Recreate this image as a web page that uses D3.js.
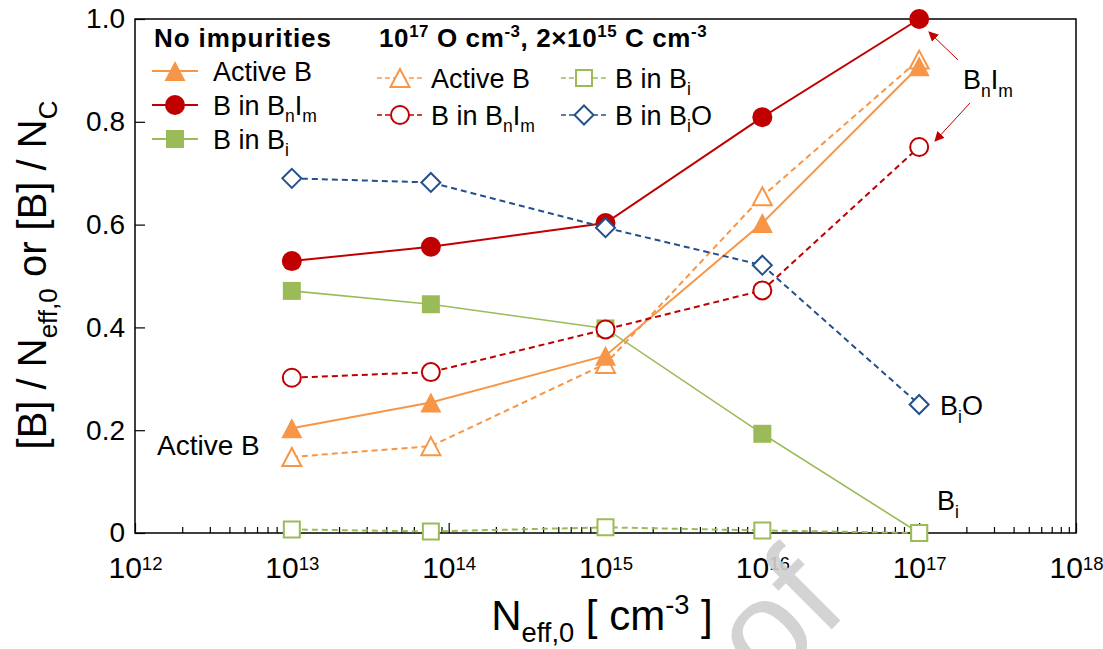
<!DOCTYPE html>
<html><head><meta charset="utf-8">
<script src="https://cdn.jsdelivr.net/npm/d3@7"></script>
<style>
body{margin:0;background:#fff;}
svg{display:block;font-family:Arial,"Liberation Sans",sans-serif;}
</style></head><body>
<svg id="chart" width="1103" height="649"></svg>
<script>
// ---------- data ----------
const xValues      = [1e13, 7.7e13, 1e15, 1e16, 1e17];
// No impurities
const activeB      = [0.204, 0.254, 0.345, 0.603, 0.908];
const bnimB        = [0.529, 0.557, 0.603, 0.809, 1.000];
const biB          = [0.471, 0.445, 0.398, 0.193, 0.000];
// 1e17 O cm-3, 2x1e15 C cm-3
const activeBImp   = [0.148, 0.169, 0.329, 0.655, 0.921];
const bnimBImp     = [0.302, 0.313, 0.396, 0.472, 0.751];
const biBImp       = [0.007, 0.003, 0.011, 0.005, 0.000];
const bioBImp      = [0.690, 0.682, 0.594, 0.521, 0.250];
const xTickExps    = [12, 13, 14, 15, 16, 17, 18];
const yTickValues  = [0, 0.2, 0.4, 0.6, 0.8, 1.0];

// ---------- setup ----------
const RED = "#C00000", ORANGE = "#F79646", GREEN = "#9BBB59", BLUE = "#24508C";
const svg = d3.select("#chart");
const P = {left:135, right:1076, top:19, bottom:533};
const x = d3.scaleLog().domain([1e12, 1e18]).range([P.left, P.right]);
const y = d3.scaleLinear().domain([0, 1]).range([P.bottom, P.top]);

function rich(parent, x0, y0, parts, fs, attrs = {}, subScale = 0.65, supScale = 0.65, subDy = 0.28, supDy = 0.38) {
  const t = parent.append("text").attr("x", x0).attr("y", y0).attr("font-size", fs);
  for (const k in attrs) t.attr(k, attrs[k]);
  let shift = 0;
  parts.forEach(p => {
    const [s, kind] = Array.isArray(p) ? p : [p, null];
    const ts = t.append("tspan").text(s);
    let target = 0;
    if (kind === "sub") { ts.attr("font-size", fs * subScale); target = fs * subDy; }
    else if (kind === "sup") { ts.attr("font-size", fs * supScale); target = -fs * supDy; }
    ts.attr("dy", target - shift);
    shift = target;
  });
  return t;
}

// ---------- axes ----------
const minorTicks = [];
for (let e = 12; e < 18; e++) for (let k = 2; k <= 9; k++) minorTicks.push(k * Math.pow(10, e));
const xMajor = xTickExps.map(e => Math.pow(10, e));

const gxMinor = svg.append("g").attr("transform", `translate(0,${P.bottom})`)
  .call(d3.axisBottom(x).tickValues(minorTicks).tickSize(-6).tickSizeOuter(0).tickFormat(""));
const gx = svg.append("g").attr("transform", `translate(0,${P.bottom})`)
  .call(d3.axisBottom(x).tickValues(xMajor).tickSize(-10).tickSizeOuter(0).tickFormat(""));
[gxMinor, gx].forEach(g => { g.select(".domain").remove(); g.selectAll(".tick line").attr("stroke", "#000").attr("stroke-width", 1.2); });
gx.selectAll(".tick text").remove();
gx.selectAll(".tick").each(function(d) {
  const e = Math.round(Math.log10(d));
  rich(d3.select(this), 0, 45, ["10", [String(e), "sup"]], 30, {"text-anchor": "middle", fill: "#000"}, 0.65, 0.62, 0.28, 0.27);
});

const gy = svg.append("g").attr("transform", `translate(${P.left},0)`)
  .call(d3.axisLeft(y).tickValues(yTickValues).tickSize(-10).tickSizeOuter(0).tickPadding(10)
    .tickFormat(d => d === 0 ? "0" : d3.format(".1f")(d)));
gy.select(".domain").remove();
gy.selectAll(".tick line").attr("stroke", "#000").attr("stroke-width", 1.2);
gy.selectAll(".tick text").attr("font-size", 28).attr("fill", "#000").attr("font-family", "Arial, 'Liberation Sans', sans-serif");

// frame
svg.append("rect").attr("x", P.left).attr("y", P.top).attr("width", P.right - P.left).attr("height", P.bottom - P.top)
  .attr("fill", "none").attr("stroke", "#000").attr("stroke-width", 1.5);

// axis titles
rich(svg, 0, 0, ["[B] / N", ["eff,0", "sub"], " or  [B] / N", ["C", "sub"]], 40,
  {"text-anchor": "middle", transform: "translate(46,275) rotate(-90)"});
rich(svg, 602, 630, ["N", ["eff,0", "sub"], " [ cm", ["-3", "sup"], " ]"], 42, {"text-anchor": "middle"});

// ---------- markers ----------
function markerPath(type, open) {
  if (type === "tri") { const w = open ? 19 : 21, h = open ? 18 : 20; return `M0,${-h/2}L${w/2},${h/2}L${-w/2},${h/2}Z`; }
  if (type === "sq") { const s = open ? 16 : 18; return `M${-s/2},${-s/2}h${s}v${s}h${-s}Z`; }
  if (type === "dia") { const s = 9.5; return `M0,${-s}L${s},0L0,${s}L${-s},0Z`; }
  return null;
}
function drawMarker(g, type, open, color, cx, cy) {
  let m;
  if (type === "circ") m = g.append("circle").attr("cx", cx).attr("cy", cy).attr("r", open ? 9 : 10);
  else m = g.append("path").attr("d", markerPath(type, open)).attr("transform", `translate(${cx},${cy})`);
  if (open) m.attr("fill", "#fff").attr("stroke", color).attr("stroke-width", 2);
  else m.attr("fill", color);
  return m;
}

const series = [
  {vals: activeBImp, color: ORANGE, type: "tri",  open: true,  dash: true,  lw: 2},
  {vals: activeB,    color: ORANGE, type: "tri",  open: false, dash: false, lw: 2},
  {vals: bnimB,      color: RED,    type: "circ", open: false, dash: false, lw: 2},
  {vals: biB,        color: GREEN,  type: "sq",   open: false, dash: false, lw: 1.6},
  {vals: bnimBImp,   color: RED,    type: "circ", open: true,  dash: true,  lw: 2},
  {vals: biBImp,     color: GREEN,  type: "sq",   open: true,  dash: true,  lw: 2},
  {vals: bioBImp,    color: BLUE,   type: "dia",  open: true,  dash: true,  lw: 2},
];
const line = d3.line().x(d => x(d[0])).y(d => y(d[1]));
const plot = svg.append("g");
series.forEach(s => {
  const pts = xValues.map((xv, i) => [xv, s.vals[i]]);
  plot.append("path").attr("d", line(pts)).attr("fill", "none").attr("stroke", s.color)
    .attr("stroke-width", s.lw).attr("stroke-dasharray", s.dash ? "6,4" : null);
  pts.forEach(p => drawMarker(plot, s.type, s.open, s.color, x(p[0]), y(p[1])));
});

// ---------- legend ----------
const leg = svg.append("g");
leg.append("text").attr("x", 154).attr("y", 47).attr("font-size", 26).attr("font-weight", "bold")
  .attr("letter-spacing", 0.9).text("No impurities");
rich(leg, 379, 47, ["10", ["17", "sup"], " O cm", ["-3", "sup"], ", 2\u00d710", ["15", "sup"], " C cm", ["-3", "sup"]], 26,
  {"font-weight": "bold", "letter-spacing": 0.6});

function legItem(lx1, lx2, cy, s, parts, tx) {
  leg.append("line").attr("x1", lx1).attr("x2", lx2).attr("y1", cy).attr("y2", cy).attr("stroke", s.color)
    .attr("stroke-width", s.dash ? 1.6 : 2.2).attr("stroke-dasharray", s.dash ? "5,3" : null);
  drawMarker(leg, s.type, s.open, s.color, (lx1 + lx2) / 2, cy);
  rich(leg, tx, cy + 9.5, parts, 27);
}
legItem(152, 198, 71,  series[1], ["Active B"], 213);
legItem(152, 198, 105, series[2], ["B in B", ["n", "sub"], "I", ["m", "sub"]], 213);
legItem(152, 198, 139, series[3], ["B in B", ["i", "sub"]], 213);
legItem(377, 423, 78,  series[0], ["Active B"], 431);
legItem(377, 423, 115, series[4], ["B in B", ["n", "sub"], "I", ["m", "sub"]], 431);
legItem(561, 607, 78,  series[5], ["B in B", ["i", "sub"]], 615);
legItem(561, 607, 115, series[6], ["B in B", ["i", "sub"], "O"], 615);

// ---------- annotations ----------
const defs = svg.append("defs");
defs.append("marker").attr("id", "arr").attr("viewBox", "0 0 10 10").attr("refX", 9).attr("refY", 5)
  .attr("markerWidth", 10).attr("markerHeight", 10).attr("markerUnits", "userSpaceOnUse").attr("orient", "auto")
  .append("path").attr("d", "M0,0L10,5L0,10Z").attr("fill", RED);
svg.append("line").attr("x1", 958).attr("y1", 60).attr("x2", 929).attr("y2", 32)
  .attr("stroke", RED).attr("stroke-width", 1).attr("marker-end", "url(#arr)");
svg.append("line").attr("x1", 970).attr("y1", 103).attr("x2", 935).attr("y2", 141)
  .attr("stroke", RED).attr("stroke-width", 1).attr("marker-end", "url(#arr)");
rich(svg, 963, 89, ["B", ["n", "sub"], "I", ["m", "sub"]], 27);
rich(svg, 157, 455, ["Active B"], 28);
rich(svg, 940, 415, ["B", ["i", "sub"], "O"], 27);
rich(svg, 937, 510, ["B", ["i", "sub"]], 27);

// watermark
svg.append("text").attr("transform", "translate(768,693) rotate(-45)").attr("font-size", 140)
  .attr("fill", "#cfcfcf").attr("opacity", 0.9).text("of");
</script>
</body></html>
